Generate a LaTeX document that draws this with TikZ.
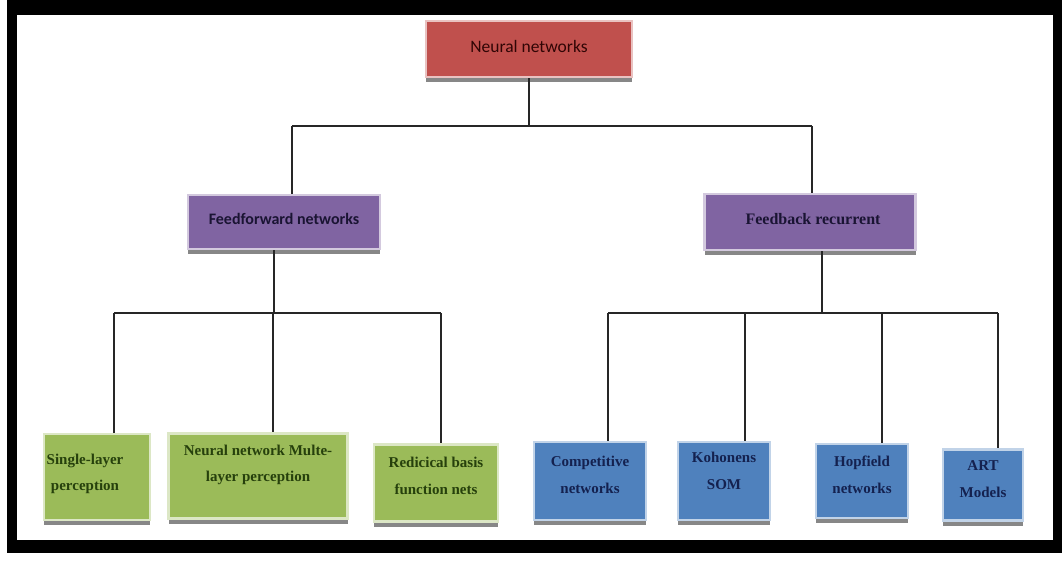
\documentclass[tikz,border=0pt]{standalone}
\usepackage{fontspec}
\setmainfont{Liberation Serif}
\newfontfamily\carlito{Carlito}
\usetikzlibrary{shadows}
\definecolor{nnred}{HTML}{C0504D}
\definecolor{nnpurple}{HTML}{8064A2}
\definecolor{nngreen}{HTML}{9BBB59}
\definecolor{nnblue}{HTML}{4F81BD}
\definecolor{txtred}{HTML}{300505}
\definecolor{txtpurple}{HTML}{1A1433}
\definecolor{txtgreen}{HTML}{26400C}
\definecolor{txtblue}{HTML}{14214F}
\tikzset{
  box/.style={draw=#1!35!white, line width=2.5pt, fill=#1, inner sep=2pt, align=center,
    drop shadow={shadow xshift=0pt, shadow yshift=-5pt, fill=black!55, opacity=0.85}},
  leafg/.style={box=nngreen},
  leafb/.style={box=nnblue},
  ltg/.style={text=txtgreen, align=center, inner sep=0pt, font=\bfseries\fontsize{15}{26.5}\selectfont},
  ltb/.style={text=txtblue, align=center, inner sep=0pt, font=\bfseries\fontsize{15}{27}\selectfont},
  ltop/.style={text=txtred, inner sep=0pt, font=\carlito\fontsize{17.5}{20}\selectfont},
  lff/.style={text=txtpurple, inner sep=0pt, font=\carlito\bfseries\fontsize{16}{18}\selectfont},
  lfb/.style={text=txtpurple, inner sep=0pt, font=\bfseries\fontsize{16}{18}\selectfont},
  wire/.style={draw=black!85, line width=1.3pt},
}
\begin{document}
\begin{tikzpicture}[x=1pt,y=-1pt]
\useasboundingbox (0,0) rectangle (1062,561);
\fill[white] (0,0) rectangle (1062,561);
\fill[black] (7,0) rectangle (1062,553);
\fill[white] (17,15) rectangle (1053,540);

% nodes
\node[box=nnred, minimum width=206pt, minimum height=56pt,
  label={[ltop, yshift=3pt]center:Neural networks}] (nn) at (529,49) {};
\node[box=nnpurple, minimum width=192pt, minimum height=54pt,
  label={[lff, yshift=3pt]center:Feedforward networks}] (ff) at (284,222) {};
\node[box=nnpurple, minimum width=211pt, minimum height=56pt,
  label={[lfb, yshift=3pt, xshift=3pt]center:Feedback recurrent}] (fb) at (810,222) {};

\node[leafg, minimum width=106pt, minimum height=86pt,
  label={[ltg, yshift=3pt, xshift=-12pt]center:{Single-layer\\perception}}] (l1) at (97,477) {};
\node[leafg, minimum width=179pt, minimum height=85pt,
  label={[ltg, yshift=11pt]center:{Neural network Multe-\\layer perception}}] (l2) at (258,476) {};
\node[leafg, minimum width=124pt, minimum height=77pt,
  label={[ltg, yshift=7pt]center:{Redicical basis\\function nets}}] (l3) at (436,483) {};

\node[leafb, minimum width=112pt, minimum height=78pt,
  label={[ltb, yshift=6pt]center:{Competitive\\networks}}] (r1) at (590,481) {};
\node[leafb, minimum width=92pt, minimum height=78pt,
  label={[ltb, yshift=10pt]center:{Kohonens\\SOM}}] (r2) at (724,481) {};
\node[leafb, minimum width=92pt, minimum height=74pt,
  label={[ltb, yshift=6pt]center:{Hopfield\\networks}}] (r3) at (862,481) {};
\node[leafb, minimum width=80pt, minimum height=71pt,
  label={[ltb, yshift=6pt]center:{ART\\Models}}] (r4) at (983,485) {};

% top bus
\coordinate (t0) at (529,126);
\coordinate (tL) at (292,126);
\coordinate (tR) at (812,126);
\draw[wire] (nn.south) -- (t0);
\draw[wire] (tL) -- (tR);
\draw[wire] (tL) -- (tL |- ff.north);
\draw[wire] (tR) -- (tR |- fb.north);

% left bus
\coordinate (f0) at (274,313);
\coordinate (fa) at (114,313);
\coordinate (fb2) at (273,313);
\coordinate (fc) at (441,313);
\draw[wire] (f0 |- ff.south) -- (f0);
\draw[wire] (fa) -- (fc);
\draw[wire] (fa) -- (fa |- l1.north);
\draw[wire] (fb2) -- (fb2 |- l2.north);
\draw[wire] (fc) -- (fc |- l3.north);

% right bus
\coordinate (g0) at (822,313);
\coordinate (ga) at (608,313);
\coordinate (gb) at (745,313);
\coordinate (gc) at (882,313);
\coordinate (gd) at (998,313);
\draw[wire] (g0 |- fb.south) -- (g0);
\draw[wire] (ga) -- (gd);
\draw[wire] (ga) -- (ga |- r1.north);
\draw[wire] (gb) -- (gb |- r2.north);
\draw[wire] (gc) -- (gc |- r3.north);
\draw[wire] (gd) -- (gd |- r4.north);
\end{tikzpicture}
\end{document}
